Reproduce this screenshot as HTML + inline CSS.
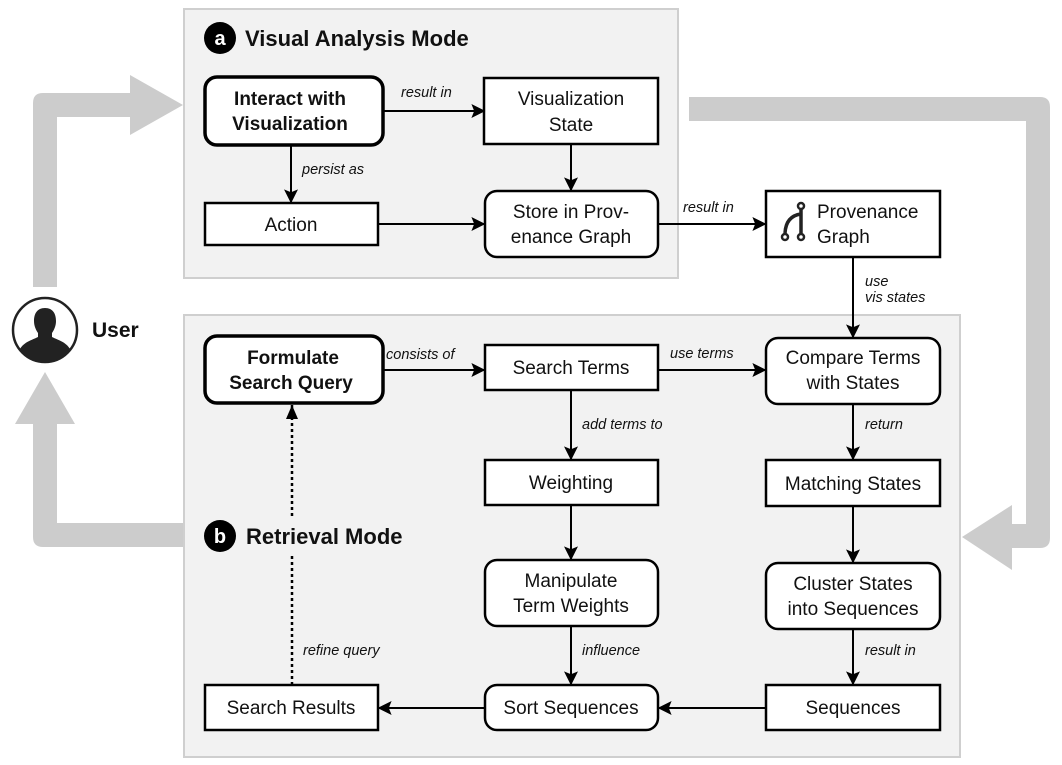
<!DOCTYPE html>
<html><head><meta charset="utf-8"><style>
body{margin:0;background:#fff}
svg{display:block}
text{font-family:"Liberation Sans",sans-serif;fill:#111}
.n{font-size:19px;text-anchor:middle}
.b{font-weight:bold}
.l{font-size:14.5px;font-style:italic}
</style></head><body>
<svg width="1062" height="765" viewBox="0 0 1062 765" xmlns="http://www.w3.org/2000/svg">
<defs>
<marker id="ah" viewBox="0 0 10 10" refX="9" refY="5" markerWidth="16" markerHeight="14" orient="auto" markerUnits="userSpaceOnUse"><path d="M0,0 L10,5 L0,10 L2,5 z" fill="#000"/></marker></defs>
<rect x="184" y="9" width="494" height="269" fill="#f2f2f2" stroke="#cfcfcf" stroke-width="2"/>
<rect x="184" y="315" width="776" height="442" fill="#f2f2f2" stroke="#cfcfcf" stroke-width="2"/>
<g fill="#cccccc">
<path d="M33,287 L33,103 Q33,93 43,93 L130,93 L130,75 L183,105 L130,135 L130,117 L57,117 L57,287 z"/>
<path d="M183,523 L183,547 L43,547 Q33,547 33,537 L33,424 L15,424 L45,372 L75,424 L57,424 L57,523 z"/>
<path d="M689,97 L1040,97 Q1050,97 1050,107 L1050,538 Q1050,548 1040,548 L1012,548 L1012,570 L962,537 L1012,505 L1012,524 L1026,524 L1026,121 L689,121 z"/>
</g>
<circle cx="45" cy="330" r="32" fill="#fff" stroke="#222" stroke-width="2.5"/>
<path d="M45,308 c-8,0 -11,6 -11,13 c0,5 2,9 4,12 l0,4 c-6,3 -14,5 -18,12 a31,31 0 0 0 50,0 c-4,-7 -12,-9 -18,-12 l0,-4 c2,-3 4,-7 4,-12 c0,-7 -3,-13 -11,-13z" fill="#222"/>
<text x="92" y="337" class="b" style="font-size:21px">User</text>
<circle cx="220" cy="38" r="16" fill="#000"/><text x="220" y="45" class="b" style="font-size:20px;fill:#fff;text-anchor:middle">a</text>
<text x="245" y="46" class="b" style="font-size:22px">Visual Analysis Mode</text>
<circle cx="220" cy="536" r="16" fill="#000"/><text x="220" y="543" class="b" style="font-size:20px;fill:#fff;text-anchor:middle">b</text>
<text x="246" y="544" class="b" style="font-size:22px">Retrieval Mode</text>
<g fill="#fff" stroke="#000">
<rect x="205" y="77" width="178" height="68" rx="12" stroke-width="3.5"/>
<rect x="484" y="78" width="174" height="66" stroke-width="2.5"/>
<rect x="205" y="203" width="173" height="42" stroke-width="2.5"/>
<rect x="485" y="191" width="173" height="66" rx="12" stroke-width="2.5"/>
<rect x="766" y="191" width="174" height="66" stroke-width="2.5"/>
<rect x="205" y="336" width="178" height="67" rx="12" stroke-width="3.5"/>
<rect x="485" y="345" width="173" height="45" stroke-width="2.5"/>
<rect x="766" y="338" width="174" height="66" rx="12" stroke-width="2.5"/>
<rect x="485" y="460" width="173" height="45" stroke-width="2.5"/>
<rect x="766" y="460" width="174" height="46" stroke-width="2.5"/>
<rect x="485" y="560" width="173" height="66" rx="12" stroke-width="2.5"/>
<rect x="766" y="563" width="174" height="66" rx="12" stroke-width="2.5"/>
<rect x="205" y="685" width="173" height="45" stroke-width="2.5"/>
<rect x="485" y="685" width="173" height="45" rx="12" stroke-width="2.5"/>
<rect x="766" y="685" width="174" height="45" stroke-width="2.5"/>
</g>
<text class="n b" x="290" y="105">Interact with</text><text class="n b" x="290" y="130">Visualization</text>
<text class="n" x="571" y="105">Visualization</text><text class="n" x="571" y="131">State</text>
<text class="n" x="291" y="231">Action</text>
<text class="n" x="571" y="218">Store in Prov-</text><text class="n" x="571" y="243">enance Graph</text>
<text x="817" y="218" style="font-size:19px">Provenance</text><text x="817" y="243" style="font-size:19px">Graph</text>
<g stroke="#222" stroke-width="3.5" fill="none"><path d="M801,209 L801,233 M801,214 Q786,216 785,233"/></g>
<circle cx="801" cy="206" r="3" fill="#fff" stroke="#222" stroke-width="2.5"/>
<circle cx="785" cy="237" r="3" fill="#fff" stroke="#222" stroke-width="2.5"/>
<circle cx="801" cy="237" r="3" fill="#fff" stroke="#222" stroke-width="2.5"/>
<text class="n b" x="293" y="364">Formulate</text><text class="n b" x="291" y="389">Search Query</text>
<text class="n" x="571" y="374">Search Terms</text>
<text class="n" x="853" y="364">Compare Terms</text><text class="n" x="853" y="389">with  States</text>
<text class="n" x="571" y="489">Weighting</text>
<text class="n" x="853" y="490">Matching  States</text>
<text class="n" x="571" y="587">Manipulate</text><text class="n" x="571" y="612">Term Weights</text>
<text class="n" x="853" y="590">Cluster States</text><text class="n" x="853" y="615">into Sequences</text>
<text class="n" x="291" y="714">Search Results</text>
<text class="n" x="571" y="714">Sort Sequences</text>
<text class="n" x="853" y="714">Sequences</text>
<g stroke="#000" stroke-width="2" fill="none" marker-end="url(#ah)">
<path d="M383,111 L484,111"/>
<path d="M291,145 L291,202"/>
<path d="M571,144 L571,190"/>
<path d="M378,224 L484,224"/>
<path d="M658,224 L765,224"/>
<path d="M853,257 L853,337"/>
<path d="M383,370 L484,370"/>
<path d="M658,370 L765,370"/>
<path d="M571,390 L571,459"/>
<path d="M853,404 L853,459"/>
<path d="M571,505 L571,559"/>
<path d="M853,506 L853,562"/>
<path d="M571,626 L571,684"/>
<path d="M853,629 L853,684"/>
<path d="M766,708 L659,708"/>
<path d="M485,708 L379,708"/>
</g>
<path d="M292,685 L292,556 M292,516 L292,404" stroke="#000" stroke-width="2.5" stroke-dasharray="3,3" fill="none"/>
<path d="M286,419 L292,405 L298,419 z" fill="#000"/>
<text class="l" x="401" y="97">result in</text>
<text class="l" x="302" y="174">persist as</text>
<text class="l" x="683" y="212">result in</text>
<text class="l" x="865" y="286">use</text><text class="l" x="865" y="302">vis states</text>
<text class="l" x="386" y="359">consists of</text>
<text class="l" x="670" y="358">use terms</text>
<text class="l" x="582" y="429">add terms to</text>
<text class="l" x="865" y="429">return</text>
<text class="l" x="582" y="655">influence</text>
<text class="l" x="865" y="655">result in</text>
<text class="l" x="303" y="655">refine query</text>
</svg>
</body></html>
